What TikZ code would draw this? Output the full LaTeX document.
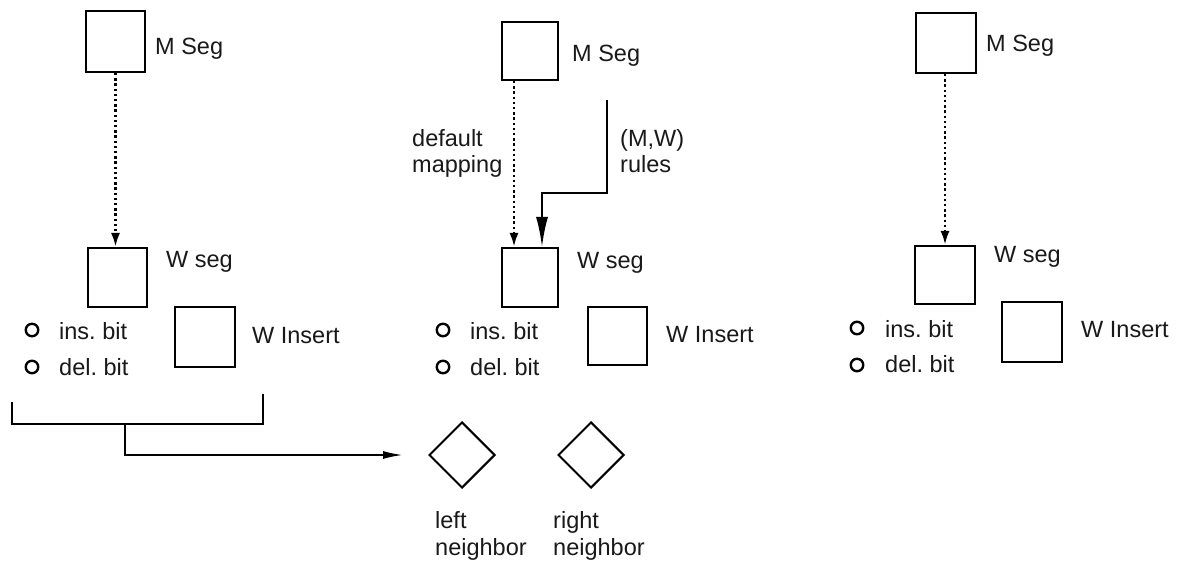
\documentclass[tikz,border=0pt]{standalone}
\usepackage{fontspec}
\setmainfont{Liberation Sans}
\frenchspacing
\usetikzlibrary{arrows.meta,shapes.geometric}
\begin{document}
\begin{tikzpicture}[x=1pt,y=-1pt,
  box/.style={draw,line width=2pt,inner sep=0pt,minimum width=59pt,minimum height=59pt},
  lbl/.style={anchor=base west,inner sep=0pt,font=\fontsize{23.5}{27}\selectfont,text=black!90},
  twolbl/.style={anchor=base west,inner sep=0pt,align=left,font=\fontsize{23.5}{26.5}\selectfont,text=black!90},
  bitc/.style={draw,circle,line width=2.4pt,minimum size=12.5pt,inner sep=0pt},
  dotarrow/.style={line width=2.6pt,dash pattern=on 2.4pt off 2.8pt,-{Latex[length=14pt,width=9pt]}},
  rulearrow/.style={line width=2.2pt,-{Latex[length=30pt,width=12pt]}},
  bracket/.style={line width=1.9pt},
  nbarrow/.style={line width=1.9pt,-{Latex[length=20pt,width=8pt]}},
  nb/.style={draw,diamond,line width=2pt,inner sep=0pt,minimum width=66pt,minimum height=66pt}]
\useasboundingbox (0,0) rectangle (1182,561);
\fill[white] (0,0) rectangle (1182,561);

% ---------- panel 1 ----------
\node[box,minimum height=61pt] (mseg1) at (115.5,41.5) {};
\node[lbl] (mseg1l) at (155,55) {M Seg};
\node[box] (wseg1) at (117.5,277.5) {};
\node[lbl] (wseg1l) at (166,267) {W seg};
\draw[dotarrow] (mseg1.south) -- (mseg1.south |- wseg1.north);
\node[bitc] (ins1) at (32,330) {};
\node[lbl] (ins1l) at (59,339) {ins. bit};
\node[bitc] (del1) at (32,367) {};
\node[lbl] (del1l) at (59,375) {del. bit};
\node[box,minimum width=60pt,minimum height=60pt] (wins1) at (205,337) {};
\node[lbl] (wins1l) at (252,343) {W Insert};

% bracket and arrow to neighbors
\coordinate (bl) at (12,402);
\coordinate (br) at (263,394);
\coordinate (bmid) at (125,424);
\draw[bracket] (bl) -- (bl |- bmid) -- (br |- bmid) -- (br);

% ---------- neighbors ----------
\node[nb] (lnb) at (462,455) {};
\node[nb] (rnb) at (591,455) {};
\node[twolbl] (lnbl) at (435,555) {left\\neighbor};
\node[twolbl] (rnbl) at (553,555) {right\\neighbor};
\draw[nbarrow] (bmid) -- (bmid |- lnb.west) -- ([xshift=-25pt]lnb.west);

% ---------- panel 2 ----------
\node[box,minimum width=56pt,minimum height=58pt] (mseg2) at (530,51) {};
\node[lbl] (mseg2l) at (572,62) {M Seg};
\node[box,minimum width=56pt] (wseg2) at (530,277.5) {};
\node[lbl] (wseg2l) at (577,268) {W seg};
\draw[dotarrow] ([xshift=-16pt]mseg2.south) -- ([xshift=-16pt]wseg2.north);
\node[twolbl] (defl) at (412,173) {default\\mapping};
\coordinate (rstart) at (607,100);
\draw[rulearrow] (rstart) -- (607,193) -- (542,193) -- ([xshift=12pt]wseg2.north);
\node[twolbl] (rulesl) at (620,173) {(M,W)\\rules};
\node[bitc] (ins2) at (443,330) {};
\node[lbl] (ins2l) at (470,339) {ins. bit};
\node[bitc] (del2) at (443,367) {};
\node[lbl] (del2l) at (470,375) {del. bit};
\node[box,minimum height=58pt] (wins2) at (617.5,336) {};
\node[lbl] (wins2l) at (666,342) {W Insert};

% ---------- panel 3 ----------
\node[box,minimum width=60pt,minimum height=60pt] (mseg3) at (946,43) {};
\node[lbl] (mseg3l) at (986,52) {M Seg};
\node[box,minimum width=60pt,minimum height=58pt] (wseg3) at (945,275) {};
\node[lbl] (wseg3l) at (994,262) {W seg};
\draw[dotarrow] (mseg3.south -| wseg3.north) -- (wseg3.north);
\node[bitc] (ins3) at (857,328) {};
\node[lbl] (ins3l) at (885,337) {ins. bit};
\node[bitc] (del3) at (857,365) {};
\node[lbl] (del3l) at (885,372) {del. bit};
\node[box,minimum width=60pt,minimum height=60pt] (wins3) at (1032,332) {};
\node[lbl] (wins3l) at (1081,337) {W Insert};
\end{tikzpicture}
\end{document}
